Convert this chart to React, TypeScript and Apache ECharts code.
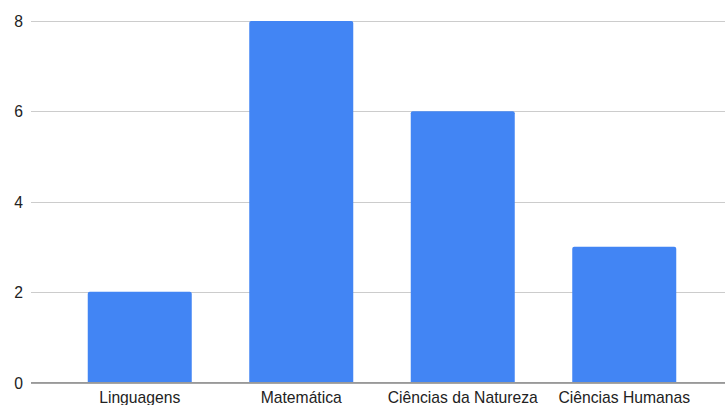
import React, { useEffect, useRef } from "react";
import * as echarts from "echarts";

const categories = ["Linguagens", "Matemática", "Ciências da Natureza", "Ciências Humanas"];
const values = [2, 8, 6, 3];

export default function App() {
  const ref = useRef<HTMLDivElement>(null);
  useEffect(() => {
    const chart = echarts.init(ref.current!, null, { renderer: "svg" });
    const font = "Arial, Liberation Sans, sans-serif";
    chart.setOption({
      animation: false,
      grid: [
        { left: 31, right: 0, top: 21, bottom: 22 },
        { left: 59, right: 20, top: 21, bottom: 22 },
      ],
      xAxis: [
        {
          gridIndex: 0,
          type: "value",
          min: 0,
          max: 1,
          axisLine: { show: false },
          axisTick: { show: false },
          axisLabel: { show: false },
          splitLine: { show: false },
        },
        {
          gridIndex: 1,
          type: "category",
          data: categories,
          axisLine: { show: false },
          axisTick: { show: false },
          axisLabel: {
            color: "#222",
            fontSize: 15.7,
            fontFamily: font,
            margin: 7,
            interval: 0,
          },
        },
      ],
      yAxis: [
        {
          gridIndex: 0,
          type: "value",
          min: 0,
          max: 8,
          interval: 2,
          axisLine: { show: false },
          axisTick: { show: false },
          axisLabel: {
            color: "#222",
            fontSize: 15.7,
            fontFamily: font,
            margin: 8,
          },
          splitLine: { lineStyle: { color: "#cccccc", width: 1 } },
        },
        {
          gridIndex: 1,
          type: "value",
          min: 0,
          max: 8,
          interval: 2,
          show: false,
        },
      ],
      series: [
        {
          type: "bar",
          xAxisIndex: 1,
          yAxisIndex: 1,
          data: values,
          barWidth: 104,
          itemStyle: { color: "#4285F4", borderRadius: [2, 2, 0, 0] },
          z: 2,
        },
        {
          type: "line",
          xAxisIndex: 0,
          yAxisIndex: 0,
          data: [[0, 0], [1, 0]],
          symbol: "none",
          lineStyle: { color: "#333333", width: 1 },
          silent: true,
          z: 3,
        },
      ],
    });
    return () => chart.dispose();
  }, []);
  return <div ref={ref} style={{ width: 725, height: 405, position: "absolute", left: 0, top: 0 }} />;
}
